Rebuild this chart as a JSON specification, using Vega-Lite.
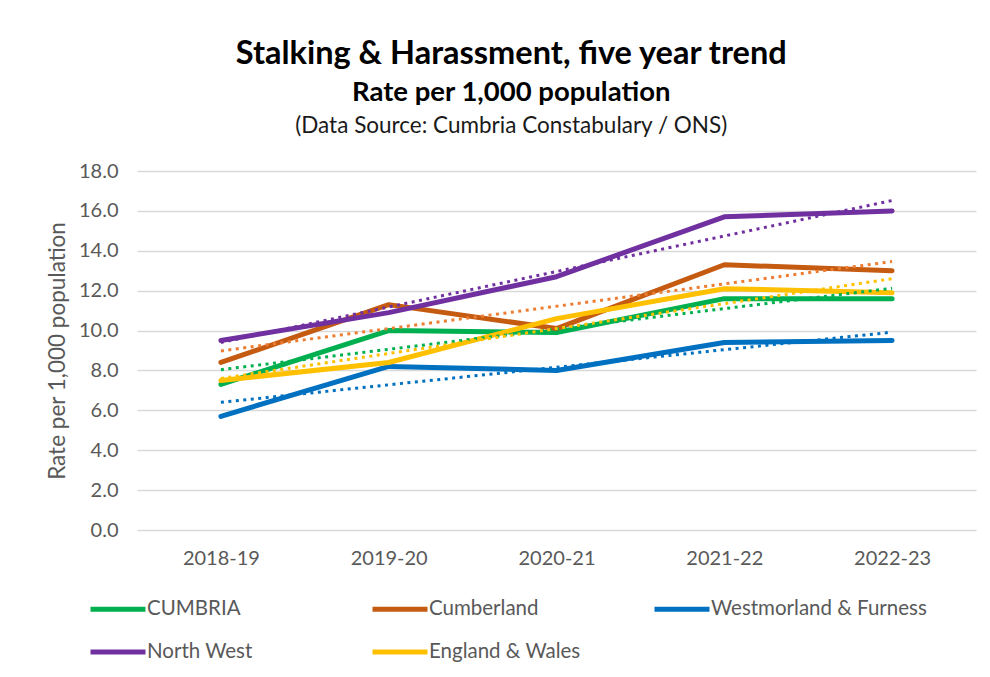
{
  "$schema": "https://vega.github.io/schema/vega-lite/v6.json",
  "background": "white",
  "padding": {"left": 46, "top": 37, "right": 14, "bottom": 10},
  "config": {
    "font": "Lato",
    "view": {"stroke": null},
    "concat": {"spacing": 0}
  },
  "title": {
    "text": "Stalking & Harassment, five year trend",
    "subtitle": "Rate per 1,000 population",
    "anchor": "middle",
    "frame": "bounds",
    "font": "Lato",
    "fontSize": 32.5,
    "fontWeight": "bold",
    "color": "#000000",
    "subtitleFont": "Lato",
    "subtitleFontSize": 27.5,
    "subtitleFontWeight": "bold",
    "subtitleColor": "#000000",
    "subtitlePadding": 9,
    "offset": 8
  },
  "datasets": {
    "rates": [
      {"series": "CUMBRIA", "year": "2018-19", "idx": 1, "value": 7.3},
      {"series": "CUMBRIA", "year": "2019-20", "idx": 2, "value": 10.0},
      {"series": "CUMBRIA", "year": "2020-21", "idx": 3, "value": 9.9},
      {"series": "CUMBRIA", "year": "2021-22", "idx": 4, "value": 11.6},
      {"series": "CUMBRIA", "year": "2022-23", "idx": 5, "value": 11.6},
      {"series": "Cumberland", "year": "2018-19", "idx": 1, "value": 8.4},
      {"series": "Cumberland", "year": "2019-20", "idx": 2, "value": 11.3},
      {"series": "Cumberland", "year": "2020-21", "idx": 3, "value": 10.1},
      {"series": "Cumberland", "year": "2021-22", "idx": 4, "value": 13.3},
      {"series": "Cumberland", "year": "2022-23", "idx": 5, "value": 13.0},
      {"series": "Westmorland & Furness", "year": "2018-19", "idx": 1, "value": 5.7},
      {"series": "Westmorland & Furness", "year": "2019-20", "idx": 2, "value": 8.2},
      {"series": "Westmorland & Furness", "year": "2020-21", "idx": 3, "value": 8.0},
      {"series": "Westmorland & Furness", "year": "2021-22", "idx": 4, "value": 9.4},
      {"series": "Westmorland & Furness", "year": "2022-23", "idx": 5, "value": 9.5},
      {"series": "North West", "year": "2018-19", "idx": 1, "value": 9.5},
      {"series": "North West", "year": "2019-20", "idx": 2, "value": 10.9},
      {"series": "North West", "year": "2020-21", "idx": 3, "value": 12.7},
      {"series": "North West", "year": "2021-22", "idx": 4, "value": 15.7},
      {"series": "North West", "year": "2022-23", "idx": 5, "value": 16.0},
      {"series": "England & Wales", "year": "2018-19", "idx": 1, "value": 7.5},
      {"series": "England & Wales", "year": "2019-20", "idx": 2, "value": 8.4},
      {"series": "England & Wales", "year": "2020-21", "idx": 3, "value": 10.6},
      {"series": "England & Wales", "year": "2021-22", "idx": 4, "value": 12.1},
      {"series": "England & Wales", "year": "2022-23", "idx": 5, "value": 11.9}
    ]
  },
  "vconcat": [
    {
      "title": {
        "text": "(Data Source: Cumbria Constabulary / ONS)",
        "anchor": "middle",
        "frame": "bounds",
        "font": "Lato",
        "fontSize": 22.5,
        "fontWeight": "normal",
        "color": "#1a1a1a",
        "offset": 24
      },
      "width": 839,
      "height": 359,
      "data": {"name": "rates"},
      "resolve": {"scale": {"x": "independent", "color": "independent"}},
      "encoding": {
        "y": {
          "field": "value",
          "type": "quantitative",
          "scale": {"domain": [0, 18], "nice": false, "zero": true},
          "axis": {
            "title": "Rate per 1,000 population",
            "titleFont": "Lato",
            "titleFontSize": 22.5,
            "titleFontWeight": "normal",
            "titleColor": "#595959",
            "titlePadding": 9,
            "values": [0, 2, 4, 6, 8, 10, 12, 14, 16, 18],
            "labelOverlap": false,
            "format": ".1f",
            "domain": false,
            "ticks": false,
            "labelFont": "Lato",
            "labelFontSize": 20,
            "labelColor": "#595959",
            "labelPadding": 19,
            "gridColor": "#d9d9d9",
            "gridWidth": 1.5
          }
        }
      },
      "layer": [
        {
          "mark": {"type": "line", "strokeWidth": 5, "strokeCap": "round", "strokeJoin": "round"},
          "encoding": {
            "x": {
              "field": "year",
              "type": "ordinal",
              "scale": {"type": "point", "padding": 0.5},
              "axis": {
                "title": null,
                "domain": false,
                "ticks": false,
                "grid": false,
                "labelAngle": 0,
                "labelFont": "Lato",
                "labelFontSize": 20,
                "labelColor": "#595959",
                "labelPadding": 18
              }
            },
            "color": {
              "field": "series",
              "type": "nominal",
              "scale": {
                "domain": ["CUMBRIA", "Cumberland", "Westmorland & Furness", "North West", "England & Wales"],
                "range": ["#00B050", "#C55A11", "#0070C0", "#7030A0", "#FFC000"]
              },
              "legend": {
                "title": null,
                "orient": "none",
                "legendX": -49,
                "legendY": 408,
                "direction": "horizontal",
                "columns": 3,
                "gridAlign": "all",
                "columnPadding": -1,
                "rowPadding": 2,
                "symbolType": "stroke",
                "symbolSize": 3025,
                "symbolStrokeWidth": 5,
                "labelFont": "Lato",
                "labelFontSize": 20.5,
                "labelColor": "#595959",
                "labelOffset": -1,
                "labelLimit": 400
              }
            }
          }
        },
        {
          "transform": [
            {"regression": "value", "on": "idx", "groupby": ["series"]}
          ],
          "mark": {"type": "line", "strokeWidth": 3, "strokeDash": [3, 4.5]},
          "encoding": {
            "x": {
              "field": "idx",
              "type": "quantitative",
              "scale": {"domain": [0.5, 5.5], "nice": false, "zero": false},
              "axis": null
            },
            "color": {
              "field": "series",
              "type": "nominal",
              "scale": {
                "domain": ["CUMBRIA", "Cumberland", "Westmorland & Furness", "North West", "England & Wales"],
                "range": ["#00B050", "#ED7D31", "#0070C0", "#7030A0", "#FFC000"]
              },
              "legend": null
            }
          }
        }
      ]
    }
  ]
}
